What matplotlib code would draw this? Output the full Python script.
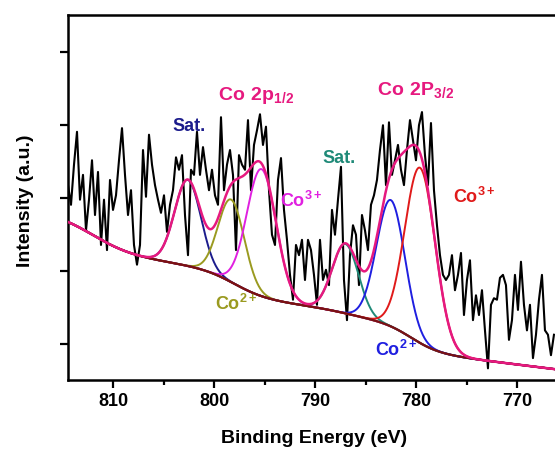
import numpy as np
import matplotlib
matplotlib.use("Agg")
import matplotlib.pyplot as plt

plt.rcParams["font.family"] = ["Liberation Sans", "DejaVu Sans"]
plt.rcParams["font.weight"] = "bold"
plt.rcParams["mathtext.fontset"] = "custom"
plt.rcParams["mathtext.rm"] = "Liberation Sans:bold"
plt.rcParams["mathtext.bf"] = "Liberation Sans:bold"
plt.rcParams["mathtext.default"] = "bf"

e_start, e_end = 814.46, 766.34
counts = [
    2.67, 2.40, 2.95, 3.40, 2.47, 2.81, 2.05, 2.47, 3.01, 2.26, 2.85, 1.85,
    2.47, 1.78, 2.74, 2.33, 2.53, 3.01, 3.45, 2.81, 2.26, 2.60, 1.85, 1.58,
    1.85, 3.15, 2.51, 3.36, 2.95, 2.67, 2.47, 2.29, 2.53, 2.03, 2.40, 2.60,
    3.05, 2.88, 3.08, 2.26, 1.71, 2.88, 2.81, 3.40, 2.81, 3.19, 2.88,
    2.60, 2.88, 2.53, 2.40, 3.60, 2.60, 2.95, 3.15, 2.81, 1.78, 3.08, 2.95,
    2.88, 3.56, 2.60, 3.22, 3.42, 3.64, 3.22, 3.47, 2.60, 1.99, 1.85,
    2.74, 3.04, 2.33, 1.92, 1.44, 1.10, 1.85, 1.71, 1.92, 1.37, 1.92, 1.78,
    1.44, 1.03, 1.92, 1.37, 1.51, 1.30, 2.33, 1.99, 2.47, 2.92, 1.37, 0.82,
    1.71, 2.12, 1.99, 1.30, 2.26, 2.05, 1.78, 2.40, 2.53, 2.74, 3.15, 3.49,
    2.67, 3.53, 2.81, 3.01, 3.22, 2.88, 2.67, 3.15, 3.56, 3.29, 3.01,
    3.49, 3.67, 3.08, 2.67, 3.52, 2.60, 2.12, 1.71, 1.44, 1.37, 1.44, 1.71,
    1.23, 1.44, 1.74, 0.89, 1.37, 1.64, 0.82, 1.16, 0.89, 1.23, 0.68,
    0.16, 1.03, 1.12, 1.10, 1.40, 1.44, 1.30, 0.55, 0.82, 1.44, 0.96, 1.62,
    1.03, 0.68, 1.03, 0.30, 0.62, 1.10, 1.44, 0.68, 0.62, 0.34, 0.62,
]
energy = np.linspace(e_start, e_end, len(counts))

# ---------- fit components (gaussians on a Shirley-type background) ----------
peak_center = [802.6, 798.3, 795.3, 787.0, 782.5, 779.6]
peak_height = [1.18, 1.13, 1.74, 0.95, 1.73, 2.40]
peak_sigma = [1.3, 1.3, 1.45, 1.3, 1.4, 1.5]
peak_color = ["#1c1c8c", "#9a9a20", "#e020e0", "#1f8a78", "#1f1fe0", "#e01a1a"]

bg_base, bg_slope = 0.15, 0.017
step_center = [812.0, 798.0, 787.0, 780.5]
step_height = [0.50, 0.36, 0.07, 0.38]
step_width = [2.0, 1.6, 1.5, 1.4]

x = np.linspace(814.46, 764.95, 800)


def background(e):
    b = bg_base + bg_slope * (e - e_end)
    for c, h, w in zip(step_center, step_height, step_width):
        b = b + h / (1 + np.exp(-(e - c) / w))
    return b


def gauss(e, c, h, s):
    return h * np.exp(-(e - c) ** 2 / (2 * s ** 2))


bg = background(x)
envelope = bg.copy()

fig = plt.figure(figsize=(5.55, 4.51), dpi=100)
ax = fig.add_axes([68 / 555, 1 - 380 / 451, 500 / 555, 365 / 451])

ax.plot(energy, counts, color="black", lw=1.5, zorder=1)
for c, h, s, col in zip(peak_center, peak_height, peak_sigma, peak_color):
    g = gauss(x, c, h, s)
    envelope += g
    ax.plot(x, bg + g, color=col, lw=1.4, zorder=2)
ax.plot(x, bg, color="#7a1212", lw=1.6, zorder=3)
ax.plot(x, envelope, color="#e6197f", lw=1.8, zorder=4)

# peak labels
ax.text(804.16, 3.41, "Sat.", color="#1c1c8c", fontsize=13)
ax.text(799.6, 3.84, r"$Co\ 2p_{1/2}$", color="#e6197f", fontsize=14)
ax.text(783.86, 3.90, r"$Co\ 2P_{3/2}$", color="#e6197f", fontsize=14)
ax.text(789.3, 2.97, "Sat.", color="#1f8a78", fontsize=13)
ax.text(793.47, 2.37, r"$Co^{3+}$", color="#e020e0", fontsize=13)
ax.text(776.34, 2.42, r"$Co^{3+}$", color="#e01a1a", fontsize=13)
ax.text(799.9, 0.96, r"$Co^{2+}$", color="#9a9a20", fontsize=13)
ax.text(784.06, 0.33, r"$Co^{2+}$", color="#1f1fe0", fontsize=13)

ax.set_xlim(814.46, 764.95)
ax.set_ylim(0, 5)
ax.set_xticks([810, 800, 790, 780, 770])
ax.set_xticks([805, 795, 785, 775, 765], minor=True)
ax.set_yticks([0.5, 1.5, 2.5, 3.5, 4.5])
ax.set_yticklabels([])
ax.tick_params(axis="both", which="major", direction="out", length=6, width=1.6,
               labelsize=13)
ax.tick_params(axis="x", which="minor", direction="out", length=3.5, width=1.6)
for sp in ax.spines.values():
    sp.set_linewidth(1.8)

ax.set_xlabel("Binding Energy (eV)", fontsize=14, fontweight="bold")
ax.set_ylabel("Intensity (a.u.)", fontsize=14, fontweight="bold")
ax.xaxis.set_label_coords((314 - 68) / 500, (380 - 443) / 365)
ax.xaxis.label.set_verticalalignment("baseline")
ax.yaxis.set_label_coords(-43 / 500, 0.49)
ax.yaxis.label.set_verticalalignment("center")

fig.savefig("out.png", dpi=100)
